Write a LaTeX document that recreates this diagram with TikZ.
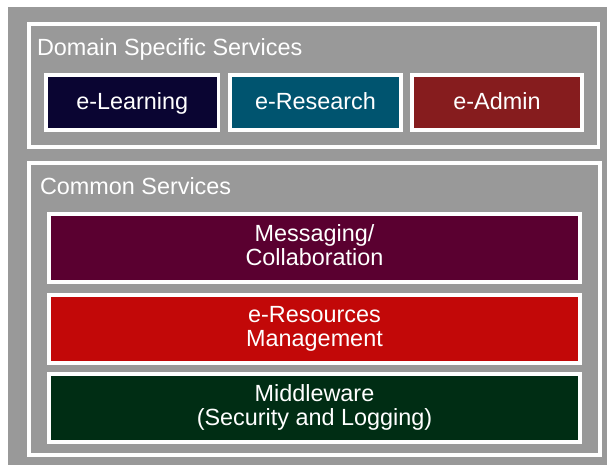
\documentclass[tikz,border=0pt]{standalone}
\usepackage{fontspec}
\setmainfont{Liberation Sans}
\definecolor{bggray}{RGB}{153,153,153}
\definecolor{learncol}{RGB}{10,5,50}
\definecolor{researchcol}{RGB}{0,84,111}
\definecolor{admincol}{RGB}{134,28,30}
\definecolor{msgcol}{RGB}{90,0,48}
\definecolor{rescol}{RGB}{194,8,8}
\definecolor{midcol}{RGB}{0,45,20}
\begin{document}
\begin{tikzpicture}[x=1pt,y=-1pt,
  every node/.style={font=\fontsize{23.4}{24}\selectfont, text=white, inner sep=0pt, outer sep=0pt},
  panel/.style={draw=white, line width=3.5pt, rectangle},
  svc/.style={draw=white, line width=3.5pt, rectangle, text height=15pt, text depth=0pt},
  layer/.style={draw=white, line width=3.5pt, rectangle, align=center, text height=34pt, text depth=0pt,
    minimum width=531pt, minimum height=68pt},
  paneltitle/.style={anchor=base west}]
\useasboundingbox (0,0) rectangle (607,465);
\fill[white] (0,0) rectangle (607,465);
\fill[bggray] (8,7) rectangle (607,465);

% upper panel: domain specific services
\node[panel, minimum width=569.5pt, minimum height=123pt] (domain) at (313.75,85.5) {};
\node[paneltitle] (domaintitle) at (37,56) {Domain Specific Services};
\node[svc, fill=learncol, minimum width=172.5pt, minimum height=55pt] (learn) at (132.25,102.5) {e-Learning};
\node[svc, fill=researchcol, minimum width=171pt, minimum height=55pt] (research) at (315.5,102.5) {e-Research};
\node[svc, fill=admincol, minimum width=170pt, minimum height=55pt] (admin) at (497,102.5) {e-Admin};

% lower panel: common services
\node[panel, minimum width=571pt, minimum height=292pt] (common) at (314.5,309) {};
\node[paneltitle] (commontitle) at (40,194) {Common Services};
\node[layer, fill=msgcol] (msg) at (314.5,248) {Messaging/\\Collaboration};
\node[layer, fill=rescol] (res) at (314.5,329) {e-Resources\\Management};
\node[layer, fill=midcol] (mid) at (314.5,408) {Middleware\\(Security and Logging)};
\end{tikzpicture}
\end{document}
